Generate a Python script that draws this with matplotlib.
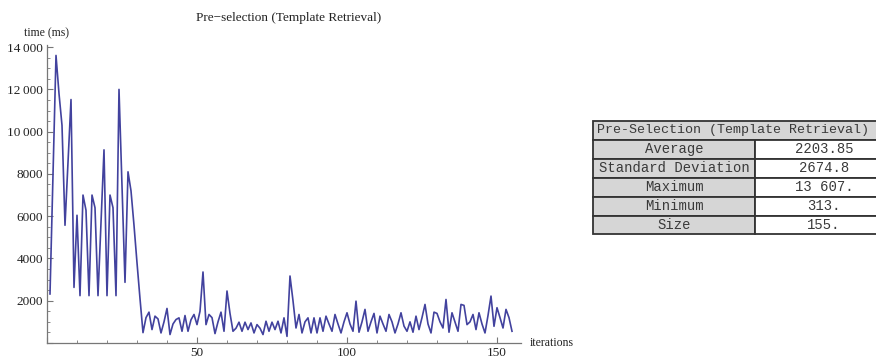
import matplotlib
matplotlib.use("Agg")
import matplotlib.pyplot as plt
from matplotlib.patches import Rectangle
from matplotlib.ticker import MultipleLocator, FuncFormatter

# ---- data -------------------------------------------------------------
iterations = list(range(1, 156))
time_ms = [
    2320, 8000, 13607, 11800, 10300, 5570, 8500, 11520, 2630, 6045,
    2240, 7000, 6280, 2240, 7000, 6400, 2240, 5700, 9140, 2240,
    7000, 6400, 2240, 12000, 7400, 2870, 8100, 7200, 5570, 3800,
    2100, 490, 1200, 1460, 635, 1270, 1140, 476, 1000, 1635,
    400, 900, 1110, 1190, 555, 1300, 555, 1100, 1350, 870,
    1500, 3360, 870, 1350, 1200, 445, 1000, 1460, 555, 2460,
    1400, 555, 700, 985, 555, 985, 635, 950, 476, 870,
    700, 400, 1030, 555, 985, 635, 1030, 476, 1190, 313,
    3170, 2000, 710, 1350, 476, 1000, 1190, 476, 1190, 476,
    1190, 555, 1270, 900, 555, 1350, 900, 476, 1000, 1430,
    900, 555, 1980, 510, 1000, 1590, 555, 1000, 1400, 476,
    1270, 900, 555, 1350, 1000, 476, 900, 1430, 800, 555,
    1000, 510, 1270, 635, 1200, 1825, 900, 476, 1460, 1400,
    1000, 710, 2060, 510, 1430, 1000, 555, 1825, 1780, 870,
    1000, 1350, 635, 1430, 900, 476, 1300, 2220, 790, 1670,
    1200, 710, 1590, 1200, 555,
]

chart_title = "Pre\u2212selection (Template Retrieval)"
y_label = "time (ms)"
x_label = "iterations"

table_title = "Pre-Selection (Template Retrieval)"
stat_names = ["Average", "Standard Deviation", "Maximum", "Minimum", "Size"]
stat_values = ["2203.85", "2674.8", "13\u2009607.", "313.", "155."]

# ---- figure -----------------------------------------------------------
W, H = 876, 358
fig = plt.figure(figsize=(W / 100, H / 100), dpi=100)
fig.patch.set_facecolor("white")

serif = ["Liberation Serif", "DejaVu Serif"]
mono = ["Liberation Mono", "DejaVu Sans Mono"]

def fx(px):
    return px / W

def fy(py):
    return 1 - py / H

ax_left, ax_right, ax_top, ax_bottom = 47, 521, 45, 343
ax = fig.add_axes([fx(ax_left), fy(ax_bottom),
                   fx(ax_right) - fx(ax_left), fy(ax_top) - fy(ax_bottom)])
ax.set_facecolor("white")

line_color = (0.26, 0.26, 0.62)
ax.plot(iterations, time_ms, color=line_color, lw=1.2, solid_joinstyle="round")

ax.set_xlim(0, 158)
ax.set_ylim(0, 14100)

for side in ("top", "right"):
    ax.spines[side].set_visible(False)
axis_color = "#777777"
for side in ("left", "bottom"):
    ax.spines[side].set_color(axis_color)
    ax.spines[side].set_linewidth(0.9)

ax.xaxis.set_major_locator(MultipleLocator(50))
ax.xaxis.set_minor_locator(MultipleLocator(10))
ax.yaxis.set_major_locator(MultipleLocator(2000))
ax.yaxis.set_minor_locator(MultipleLocator(500))

def fmt_x(v, pos):
    return "" if v == 0 else f"{int(v)}"

def fmt_y(v, pos):
    v = int(round(v))
    if v == 0:
        return ""
    if v >= 10000:
        return f"{v // 1000}\u2009{v % 1000:03d}"
    return f"{v}"

ax.xaxis.set_major_formatter(FuncFormatter(fmt_x))
ax.yaxis.set_major_formatter(FuncFormatter(fmt_y))

ax.tick_params(which="both", direction="in", color=axis_color,
               labelcolor="#222222", labelsize=9.5)
ax.tick_params(which="major", length=4, width=0.8, pad=3)
ax.tick_params(which="minor", length=2.2, width=0.6)
for lab in ax.get_xticklabels() + ax.get_yticklabels():
    lab.set_fontfamily(serif)

# titles and axis labels
fig.text(fx(289), fy(18), chart_title, ha="center", va="center",
         fontsize=9.5, family=serif, color="#222222")
fig.text(fx(46), fy(33), y_label, ha="center", va="center",
         fontsize=8.5, family=serif, color="#222222")
fig.text(fx(530), fy(343), x_label, ha="left", va="center",
         fontsize=8.5, family=serif, color="#222222")

# ---- statistics table -------------------------------------------------
t_left, t_split, t_right = 593, 755, 893
t_top, row_h = 121, 18.9
grey = "#d6d6d6"
edge = "#333333"
text_grey = "#3a3a3a"

def rect(x0, y0, x1, y1, face):
    fig.patches.append(Rectangle((fx(x0), fy(y1)), fx(x1) - fx(x0),
                                 fy(y0) - fy(y1), transform=fig.transFigure,
                                 facecolor=face, edgecolor=edge, lw=1.3,
                                 figure=fig))

rect(t_left, t_top, t_right, t_top + row_h, grey)
fig.text(fx(t_left + 4), fy(t_top + row_h / 2), table_title, ha="left",
         va="center", fontsize=9.6, family=mono, color=text_grey)

for k, (name, val) in enumerate(zip(stat_names, stat_values), start=1):
    y0 = t_top + k * row_h
    y1 = y0 + row_h
    rect(t_left, y0, t_split, y1, grey)
    rect(t_split, y0, t_right, y1, "white")
    fig.text(fx((t_left + t_split) / 2), fy((y0 + y1) / 2), name,
             ha="center", va="center", fontsize=10, family=mono,
             color=text_grey)
    fig.text(fx(824), fy((y0 + y1) / 2), val, ha="center", va="center",
             fontsize=10, family=mono, color=text_grey)

fig.savefig("out.png", dpi=100, facecolor="white")
